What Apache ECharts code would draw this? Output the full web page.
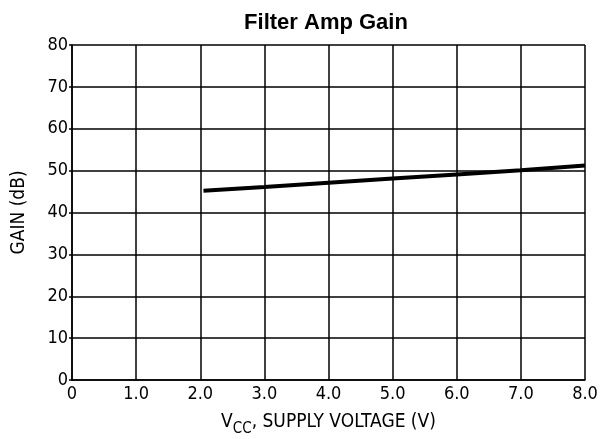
<!DOCTYPE html>
<html>
<head>
<meta charset="utf-8">
<script src="https://cdn.jsdelivr.net/npm/echarts@6/dist/echarts.min.js"></script>
<style>html,body{margin:0;padding:0;background:#fff;}#c{width:603px;height:439px;}</style>
</head>
<body>
<div id="c"></div>
<script>
const voltage = [2.05, 3.0, 4.0, 5.0, 6.0, 7.0, 8.0];
const gain = [45.2, 46.1, 47.1, 48.1, 49.1, 50.1, 51.2];
const xTickLabels = ['0', '1.0', '2.0', '3.0', '4.0', '5.0', '6.0', '7.0', '8.0'];
const yTickLabels = ['0', '10', '20', '30', '40', '50', '60', '70', '80'];

const font = '"Liberation Sans Narrow", "DejaVu Sans Condensed", sans-serif';
const chart = echarts.init(document.getElementById('c'));
chart.setOption({
  animation: false,
  backgroundColor: '#fff',
  title: {
    text: 'Filter Amp Gain',
    left: 321, top: 7, textAlign: 'center',
    textStyle: { fontFamily: 'Liberation Sans, Arial, sans-serif', fontWeight: 'bold', fontSize: 22, color: '#000' }
  },
  grid: { left: 72, right: 18, top: 45, bottom: 59, containLabel: false, outerBoundsMode: 'none' },
  xAxis: {
    type: 'value', min: 0, max: 8, interval: 1,
    axisLine: { show: true, lineStyle: { color: '#000', width: 1.5 } },
    axisTick: { show: false },
    splitLine: { show: true, lineStyle: { color: '#000', width: 1.5 } },
    axisLabel: {
      color: '#000', fontFamily: font, fontSize: 18, margin: 5,
      formatter: v => xTickLabels[Math.round(v)]
    },
    name: '{n|V}{s|CC}{n|, SUPPLY VOLTAGE (V)}',
    nameLocation: 'middle', nameGap: 33,
    nameTextStyle: {
      rich: {
        n: { fontFamily: font, fontSize: 19, color: '#000', verticalAlign: 'bottom' },
        s: { fontFamily: font, fontSize: 15, color: '#000', verticalAlign: 'bottom', padding: [0, 0, -5, 0] }
      }
    }
  },
  yAxis: {
    type: 'value', min: 0, max: 80, interval: 10,
    axisLine: { show: true, lineStyle: { color: '#000', width: 1.5 } },
    axisTick: { show: true, length: 3, lineStyle: { color: '#000', width: 1.5 } },
    splitLine: { show: true, lineStyle: { color: '#000', width: 1.5 } },
    axisLabel: {
      color: '#000', fontFamily: font, fontSize: 18, margin: 4,
      formatter: v => yTickLabels[Math.round(v / 10)]
    },
    name: 'GAIN (dB)', nameLocation: 'middle', nameGap: 43,
    nameTextStyle: { fontFamily: font, fontSize: 19, color: '#000' }
  },
  series: [{
    type: 'line',
    data: voltage.map((v, i) => [v, gain[i]]),
    showSymbol: false,
    lineStyle: { color: '#000', width: 4 },
    z: 5
  }]
});
</script>
</body>
</html>
